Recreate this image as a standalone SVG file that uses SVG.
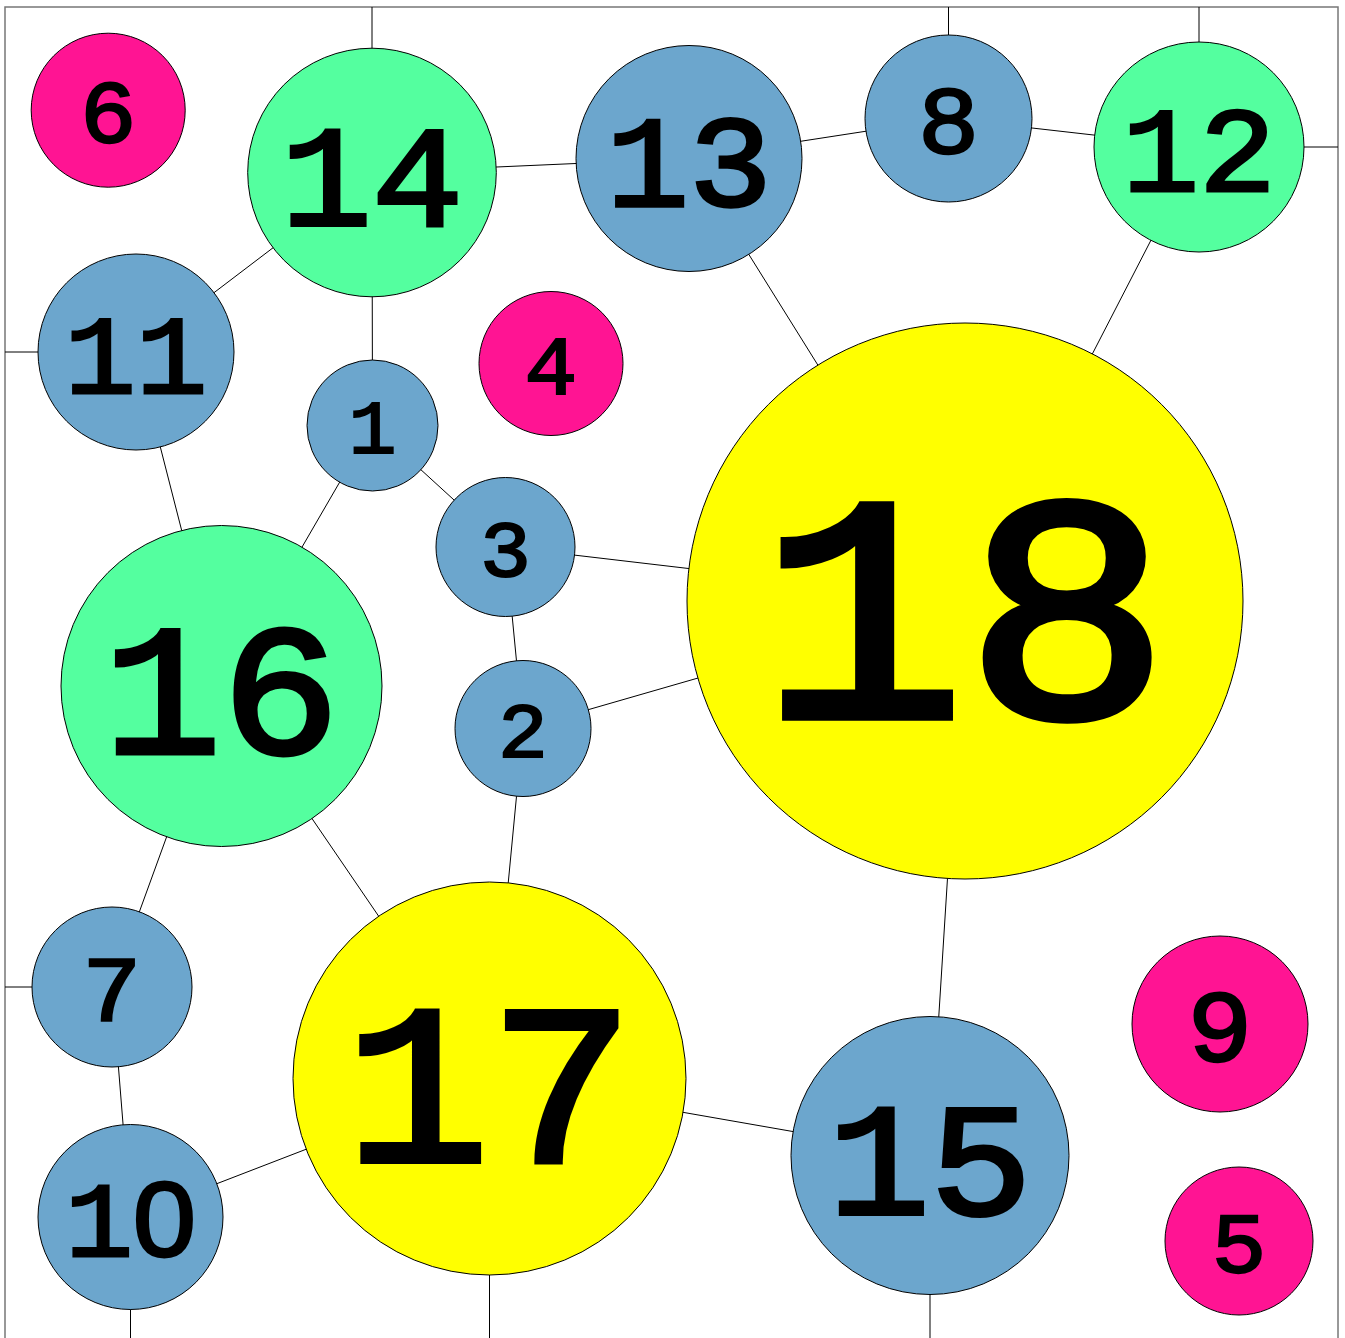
<svg xmlns="http://www.w3.org/2000/svg" width="1345" height="1338" viewBox="0 0 1345 1338">
<style>
.b{fill:#FFFFFF;stroke:#777;stroke-width:1.5}
.e line{stroke:#000;stroke-width:1}
circle{stroke:#000;stroke-width:1}
.p{fill:#FF1493}.u{fill:#6CA6CD}.g{fill:#54FF9F}.y{fill:#FFFF00}
text{font-family:"Liberation Mono","DejaVu Sans Mono",monospace;font-weight:normal;text-anchor:middle;fill:#000;stroke:#000;stroke-linejoin:miter}
.z{font-family:"Liberation Sans",sans-serif}
</style>
<rect class="b" x="5" y="7" width="1333" height="1345"/>
<g class="e" id="edges">
<line x1="372" y1="7" x2="372" y2="172"/>
<line x1="948.5" y1="7" x2="948.5" y2="118.5"/>
<line x1="1199" y1="7" x2="1199" y2="147"/>
<line x1="1199" y1="147" x2="1338" y2="147"/>
<line x1="5" y1="352" x2="136" y2="352"/>
<line x1="5" y1="987" x2="112" y2="987"/>
<line x1="130.5" y1="1217" x2="130.5" y2="1338"/>
<line x1="489.5" y1="1078.5" x2="489.5" y2="1338"/>
<line x1="930" y1="1155.5" x2="930" y2="1338"/>
<line x1="372" y1="172.5" x2="689" y2="158.5"/>
<line x1="372" y1="172.5" x2="136" y2="352"/>
<line x1="372" y1="172.5" x2="372.5" y2="425.5"/>
<line x1="689" y1="158.5" x2="948.5" y2="118.5"/>
<line x1="689" y1="158.5" x2="965" y2="601"/>
<line x1="948.5" y1="118.5" x2="1199" y2="147"/>
<line x1="1199" y1="147" x2="965" y2="601"/>
<line x1="136" y1="352" x2="221.5" y2="686"/>
<line x1="372.5" y1="425.5" x2="221.5" y2="686"/>
<line x1="372.5" y1="425.5" x2="505.5" y2="547"/>
<line x1="505.5" y1="547" x2="965" y2="601"/>
<line x1="505.5" y1="547" x2="523" y2="728.5"/>
<line x1="523" y1="728.5" x2="965" y2="601"/>
<line x1="523" y1="728.5" x2="489.5" y2="1078.5"/>
<line x1="221.5" y1="686" x2="112" y2="987"/>
<line x1="221.5" y1="686" x2="489.5" y2="1078.5"/>
<line x1="112" y1="987" x2="130.5" y2="1217"/>
<line x1="130.5" y1="1217" x2="489.5" y2="1078.5"/>
<line x1="489.5" y1="1078.5" x2="930" y2="1155.5"/>
<line x1="930" y1="1155.5" x2="965" y2="601"/>
</g>
<g id="n6"><circle class="p" cx="108.2" cy="110.2" r="77"/><text transform="translate(108.2,142) scale(1,0.94)" font-size="94" stroke-width="2.5">6</text></g>
<g id="n14"><circle class="g" cx="372" cy="172.5" r="124.3"/><text transform="translate(372,224.5) scale(1,0.94)" font-size="152" stroke-width="4">14</text></g>
<g id="n13"><circle class="u" cx="689" cy="158.5" r="113"/><text transform="translate(689,206) scale(1,0.94)" font-size="138" stroke-width="3.6">13</text></g>
<g id="n8"><circle class="u" cx="948.5" cy="118.5" r="83.5"/><text transform="translate(948.5,153.3) scale(1,0.94)" font-size="102" stroke-width="2.7">8</text></g>
<g id="n12"><circle class="g" cx="1199" cy="147" r="105"/><text transform="translate(1199,191) scale(1,0.94)" font-size="128" stroke-width="3.3">12</text></g>
<g id="n11"><circle class="u" cx="136" cy="352" r="98"/><text transform="translate(136,393) scale(1,0.94)" font-size="119" stroke-width="3.1">11</text></g>
<g id="n4"><circle class="p" cx="551" cy="363.5" r="72"/><text transform="translate(551,393.6) scale(1,0.94)" font-size="88" stroke-width="2.3">4</text></g>
<g id="n1"><circle class="u" cx="372.5" cy="425.5" r="65.5"/><text transform="translate(372.5,453) scale(1,0.94)" font-size="80" stroke-width="2.1">1</text></g>
<g id="n3"><circle class="u" cx="505.5" cy="547" r="69.5"/><text transform="translate(505.5,576.1) scale(1,0.94)" font-size="85" stroke-width="2.2">3</text></g>
<g id="n18"><circle class="y" cx="965" cy="601" r="278"/><text transform="translate(965,716.5) scale(1,0.94)" font-size="341" stroke-width="8.9">18</text></g>
<g id="n16"><circle class="g" cx="221.5" cy="686" r="160.5"/><text transform="translate(221.5,753) scale(1,0.94)" font-size="197" stroke-width="5.1">16</text></g>
<g id="n2"><circle class="u" cx="523" cy="728.5" r="68"/><text transform="translate(523,757) scale(1,0.94)" font-size="83" stroke-width="2.2">2</text></g>
<g id="n7"><circle class="u" cx="112" cy="987" r="80"/><text transform="translate(112,1020.5) scale(1,0.94)" font-size="98" stroke-width="2.6">7</text></g>
<g id="n17"><circle class="y" cx="489.5" cy="1078.5" r="196.5"/><text transform="translate(489.5,1160.5) scale(1,0.94)" font-size="241" stroke-width="6.3">17</text></g>
<g id="n15"><circle class="u" cx="930" cy="1155.5" r="139"/><text transform="translate(930,1213.6) scale(1,0.94)" font-size="170" stroke-width="4.4">15</text></g>
<g id="n9"><circle class="p" cx="1220" cy="1024" r="88"/><text transform="translate(1220,1060.8) scale(1,0.94)" font-size="108" stroke-width="2.8">9</text></g>
<g id="n5"><circle class="p" cx="1239" cy="1241" r="74"/><text transform="translate(1239,1272) scale(1,0.94)" font-size="91" stroke-width="2.4">5</text></g>
<g id="n10"><circle class="u" cx="130.5" cy="1217" r="92.5"/><text transform="translate(130.5,1255.7) scale(1,0.94)" font-size="113" stroke-width="3">1<tspan class="z">0</tspan></text></g>
</svg>
